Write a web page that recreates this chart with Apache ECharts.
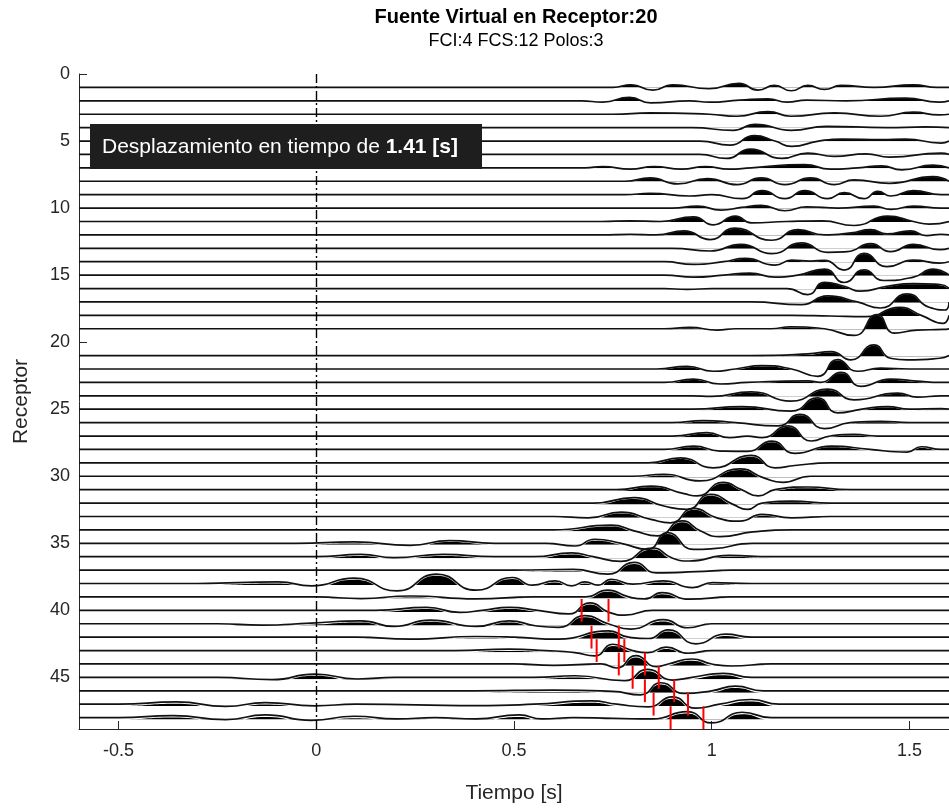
<!DOCTYPE html>
<html>
<head>
<meta charset="utf-8">
<title>Fuente Virtual en Receptor:20</title>
<script src="https://cdn.jsdelivr.net/npm/echarts@6/dist/echarts.min.js"></script>
<style>
  html, body { margin: 0; padding: 0; background: #fff; }
  #main { width: 949px; height: 809px; }
</style>
</head>
<body>
<div id="main"></div>
<script>
// limites de los ejes
var tMin = -0.6, tMax = 1.6;
var recMax = 48.85;

// receptores dibujados (el 20 es la fuente virtual, no se dibuja)
var receptores = [1,2,3,4,5,6,7,8,9,10,11,12,13,14,15,16,17,18,19,
                  21,22,23,24,25,26,27,28,29,30,31,32,33,34,35,36,37,38,39,40,41,42,43,44,45,46,47,48];

// trazas: [tiempo (s), amplitud en unidades de receptor, + hacia arriba]
var t01 = [[0.75,0],[0.796,0.2],[0.851,-0.2],[0.901,0.2],[0.993,-0.1],[1.069,0.3],[1.117,-0.2],[1.159,0.15],[1.201,-0.25],[1.243,0.15],[1.285,-0.15],[1.327,0.15],[1.41,0],[1.51,0.2],[1.57,0]];
var t02 = [[0.67,0],[0.724,-0.1],[0.792,0.25],[0.846,-0.15],[0.944,0],[0.994,-0.1],[1.07,0.05],[1.142,0.15],[1.19,-0.1],[1.24,0.05],[1.34,0],[1.49,0.2],[1.575,-0.1]];
var t03 = [[0.75,0],[0.844,0.1],[0.994,0],[1.064,-0.15],[1.142,0.2],[1.2,-0.15],[1.31,0.1],[1.427,-0.15],[1.51,0.15],[1.575,-0.05]];
var t04 = [[0.95,0],[1.054,-0.2],[1.11,0.25],[1.201,-0.2],[1.29,0.1],[1.44,0],[1.54,0.05]];
var t05 = [[0.97,0],[1.046,-0.3],[1.108,0.4],[1.16,0],[1.202,-0.4],[1.27,0],[1.33,0.15],[1.43,0.1],[1.49,0.15],[1.58,-0.15]];
var t06 = [[0.97,0],[1.037,-0.3],[1.098,0.4],[1.177,-0.3],[1.243,0.1],[1.31,-0.15],[1.39,0.05],[1.45,-0.2],[1.58,0.1]];
var t07 = [[0.68,0],[0.724,0.1],[0.794,-0.1],[0.854,0.1],[0.924,-0.1],[0.984,0.1],[1.044,-0.1],[1.1,0],[1.235,0.25],[1.3,-0.1],[1.37,0],[1.43,0.15],[1.48,-0.15],[1.56,0.2]];
var t08 = [[0.78,0],[0.844,0.25],[0.914,-0.2],[0.989,0.2],[1.064,-0.25],[1.125,0.25],[1.185,-0.25],[1.25,0.25],[1.31,-0.25],[1.36,0.1],[1.45,-0.15],[1.56,0.35]];
var t09 = [[0.78,0],[0.844,0.1],[0.944,-0.1],[1.0,0],[1.077,-0.3],[1.127,0.3],[1.185,-0.3],[1.235,0.3],[1.293,-0.3],[1.335,0.15],[1.385,-0.3],[1.42,0.25],[1.453,-0.1],[1.51,0.3],[1.58,0]];
var t10 = [[0.9,0],[0.964,0.15],[1.024,-0.15],[1.075,0.05],[1.125,0.2],[1.185,-0.2],[1.24,0.1],[1.32,0],[1.41,0.15],[1.453,-0.1],[1.51,0.15],[1.58,0]];
var t11 = [[0.72,0],[0.794,0.05],[0.87,0],[0.954,0.35],[1.004,-0.25],[1.06,0.4],[1.1,-0.1],[1.19,0],[1.28,0.05],[1.36,-0.3],[1.445,0.4],[1.51,0],[1.55,-0.2]];
var t12 = [[0.72,0],[0.794,0.05],[0.86,0],[0.93,0.3],[0.996,-0.35],[1.058,0.5],[1.152,-0.4],[1.218,0.4],[1.285,0],[1.352,0.15],[1.402,0.4],[1.443,0.07],[1.502,0.3],[1.543,-0.05],[1.58,0.05]];
var t13 = [[0.9,0],[0.996,-0.2],[1.074,0.3],[1.152,-0.4],[1.227,0.4],[1.293,-0.3],[1.343,-0.25],[1.402,0.35],[1.452,-0.25],[1.51,0.3],[1.577,-0.1]];
var t14 = [[0.88,0],[0.954,-0.2],[1.03,0],[1.085,0.25],[1.16,-0.25],[1.202,0.12],[1.25,0.05],[1.285,0.1],[1.335,-0.62],[1.385,0.62],[1.443,-0.37],[1.51,0.12],[1.577,-0.1]];
var t15 = [[0.88,0],[0.954,-0.15],[1.03,0],[1.096,0.15],[1.16,-0.15],[1.218,0],[1.285,0.45],[1.335,-0.55],[1.385,0.4],[1.435,-0.4],[1.51,-0.15],[1.56,0.45],[1.59,0.2]];
var t16 = [[0.88,0],[0.938,-0.07],[1.0,0],[1.19,0],[1.243,-0.45],[1.285,0.47],[1.335,0.17],[1.377,-0.2],[1.443,0.17],[1.51,0.37],[1.577,0.3]];
var t17 = [[1.1,0],[1.227,-0.2],[1.293,0.45],[1.368,0],[1.427,-0.45],[1.494,0.6],[1.55,-0.4],[1.59,-0.6]];
var t18 = [[1.2,0],[1.3,-0.05],[1.39,-0.1],[1.475,0.6],[1.53,0],[1.585,-0.6]];
var t19 = [[0.88,0],[0.944,0.1],[1.014,-0.1],[1.06,0],[1.15,0],[1.2,0.15],[1.285,0],[1.36,-0.5],[1.418,1.05],[1.462,-0.32],[1.52,-0.1],[1.585,-0.05]];
var t21 = [[1.1,0],[1.243,0.12],[1.302,0.3],[1.352,-0.32],[1.41,0.8],[1.452,-0.2],[1.494,-0.32],[1.577,-0.2]];
var t22 = [[0.86,0],[0.938,0.2],[1.004,-0.17],[1.06,0],[1.127,0.25],[1.202,0],[1.268,-0.55],[1.318,0.7],[1.368,-0.17],[1.427,0.07],[1.5,0],[1.58,0]];
var t23 = [[0.88,0],[0.954,0.25],[1.021,-0.12],[1.09,0],[1.243,0.12],[1.275,0],[1.327,0.75],[1.377,-0.3],[1.452,0.25],[1.518,0.1],[1.58,0]];
var t24 = [[0.95,0],[1.0,-0.05],[1.1,0.3],[1.2,-0.4],[1.293,0.5],[1.36,-0.3],[1.47,0.2],[1.52,-0.1],[1.58,0]];
var t25 = [[0.95,0],[1.077,0.2],[1.2,-0.15],[1.268,0.85],[1.318,-0.27],[1.38,0],[1.444,0.2],[1.5,0],[1.58,0.05]];
var t26 = [[0.9,0],[0.979,0.15],[1.06,0],[1.168,-0.25],[1.223,0.62],[1.285,-0.45],[1.35,0],[1.427,0.1],[1.5,0]];
var t27 = [[0.9,0],[0.988,0.25],[1.046,-0.12],[1.09,0],[1.127,-0.12],[1.193,0.75],[1.252,-0.37],[1.3,0],[1.36,0.12],[1.42,0]];
var t28 = [[0.88,0],[0.954,0.25],[1.021,-0.12],[1.09,-0.15],[1.152,0.62],[1.21,-0.3],[1.302,0.25],[1.4,0],[1.494,-0.2],[1.53,0.2],[1.58,0]];
var t29 = [[0.84,0],[0.921,0.37],[1.004,-0.37],[1.1,0.55],[1.16,-0.37],[1.21,-0.2],[1.3,0]];
var t30 = [[0.8,0],[0.879,0.15],[0.971,-0.35],[1.071,0.55],[1.13,-0.1],[1.18,-0.45],[1.25,0]];
var t31 = [[0.76,0],[0.846,0.27],[0.93,-0.3],[0.963,-0.47],[1.029,0.55],[1.075,0],[1.118,-0.47],[1.16,0],[1.243,0.2],[1.35,0]];
var t32 = [[0.7,0],[0.804,0.4],[0.879,-0.22],[0.938,-0.47],[0.996,0.65],[1.054,-0.1],[1.09,-0.47],[1.127,0],[1.202,0.15],[1.3,0]];
var t33 = [[0.6,0],[0.688,-0.1],[0.771,0.32],[0.846,-0.22],[0.896,-0.47],[0.954,0.6],[1.013,-0.1],[1.071,-0.35],[1.127,0.15],[1.202,-0.1],[1.3,0]];
var t34 = [[0.6,0],[0.746,0.35],[0.804,-0.07],[0.863,-0.45],[0.925,0.67],[0.971,-0.07],[1.021,-0.5],[1.104,-0.15],[1.2,0]];
var t35 = [[-0.05,0],[0.096,0.1],[0.237,-0.15],[0.337,0.2],[0.45,0],[0.58,0],[0.654,-0.2],[0.704,0.3],[0.771,0],[0.838,-0.45],[0.888,0.8],[0.954,-0.45],[1.004,-0.4],[1.104,0],[1.2,0]];
var t36 = [[0,0],[0.113,0.17],[0.196,-0.07],[0.321,0.17],[0.45,0],[0.55,0],[0.646,0.28],[0.7,0],[0.77,-0.35],[0.85,0.65],[0.9,-0.1],[0.943,-0.32],[1.043,0.1],[1.15,0]];
var t37 = [[0.5,0],[0.65,0.05],[0.738,-0.3],[0.804,0.57],[0.86,-0.2],[0.96,-0.12],[1.05,0]];
var t38 = [[-0.3,0],[-0.096,0.12],[-0.012,-0.17],[0.096,0.4],[0.204,-0.55],[0.304,0.7],[0.404,-0.5],[0.496,0.45],[0.546,-0.12],[0.604,0.2],[0.646,-0.17],[0.679,0.12],[0.713,-0.12],[0.746,0.32],[0.8,-0.05],[0.877,0.2],[0.952,-0.3],[1.002,0.07],[1.1,0]];
var t39 = [[0,0],[0.113,-0.12],[0.237,0.07],[0.404,-0.15],[0.55,0],[0.68,0],[0.737,0.5],[0.79,0],[0.83,-0.15],[0.874,0.32],[0.943,-0.17],[1.05,0]];
var t40 = [[0.15,0],[0.279,0.22],[0.363,-0.15],[0.42,0],[0.488,0.22],[0.56,0],[0.638,-0.27],[0.692,0.55],[0.74,-0.15],[0.78,-0.35],[0.85,0]];
var t41 = [[-0.25,0],[-0.138,-0.1],[-0.013,0.05],[0.113,0.22],[0.196,-0.2],[0.288,0.27],[0.404,-0.2],[0.488,0.22],[0.554,-0.15],[0.613,-0.27],[0.679,0.6],[0.738,0],[0.796,-0.4],[0.877,0.3],[0.94,-0.3],[1.0,0]];
var t42 = [[0.1,0],[0.237,-0.15],[0.404,0.05],[0.5,0],[0.613,-0.15],[0.738,0.47],[0.79,0],[0.84,-0.1],[0.89,0.55],[0.96,-0.5],[1.035,0.22],[1.1,0]];
var t43 = [[0.35,0],[0.488,0.1],[0.58,0],[0.654,-0.15],[0.704,-0.4],[0.75,0.47],[0.8,0],[0.838,-0.15],[0.885,0.25],[0.94,-0.2],[1.0,0]];
var t44 = [[0.5,0],[0.6,-0.1],[0.72,0],[0.76,-0.3],[0.808,0.62],[0.86,-0.2],[0.89,0],[0.95,0.37],[1.0,0],[1.05,-0.15],[1.15,0]];
var t45 = [[-0.25,0],[-0.112,-0.17],[-0.004,0.25],[0.104,-0.12],[0.2,0],[0.55,0],[0.654,0.12],[0.779,-0.25],[0.838,0.6],[0.9,-0.2],[0.95,0],[1.03,0.3],[1.1,0]];
var t46 = [[0.4,0],[0.6,0.05],[0.75,-0.05],[0.82,-0.3],[0.871,0.6],[0.93,-0.2],[1.0,0],[1.06,0.35],[1.13,0]];
var t47 = [[-0.5,0],[-0.354,0.17],[-0.229,-0.17],[-0.129,0.12],[-0.004,-0.12],[0.1,0],[0.404,-0.1],[0.55,0],[0.696,0.25],[0.76,0],[0.84,-0.2],[0.9,0.55],[0.96,-0.3],[1.02,0],[1.1,0.35],[1.17,0]];
var t48 = [[-0.5,0],[-0.362,0.15],[-0.229,-0.15],[-0.129,0.2],[-0.012,-0.2],[0.096,0.1],[0.204,-0.1],[0.3,0],[0.404,-0.1],[0.513,0.2],[0.571,-0.1],[0.65,0],[0.85,-0.1],[0.938,0.45],[1.0,-0.4],[1.077,0.4],[1.15,0]];

var trazas = [t01,t02,t03,t04,t05,t06,t07,t08,t09,t10,t11,t12,t13,t14,t15,t16,t17,t18,t19,
              t21,t22,t23,t24,t25,t26,t27,t28,t29,t30,t31,t32,t33,t34,t35,t36,t37,t38,t39,t40,t41,t42,t43,t44,t45,t46,t47,t48];

// picks (lineas rojas)
var picksReceptor = [40, 42, 43, 44, 45, 46, 47, 48];
var picksIni = [0.671, 0.696, 0.709, 0.765, 0.800, 0.831, 0.853, 0.896];
var picksFin = [0.739, 0.765, 0.779, 0.831, 0.866, 0.905, 0.940, 0.979];

var desplazamiento = 1.41;

// geometria del area de dibujo
var gLeft = 79, gTop = 74, gW = 880, gH = 657;
var fuente = '"Liberation Sans", Arial, Helvetica, sans-serif';
var gris = '#262626';

var myChart = echarts.init(document.getElementById('main'));

var grids = [{left: gLeft, top: gTop, width: gW, height: gH}];
var xAxes = [{
    gridIndex: 0, type: 'value', position: 'bottom', min: tMin, max: tMax, splitNumber: 5,
    name: 'Tiempo [s]', nameLocation: 'middle', nameGap: 54,
    nameTextStyle: {fontFamily: fuente, fontSize: 21, color: gris},
    axisLine: {onZero: false, lineStyle: {color: gris, width: 1}},
    axisTick: {inside: true, length: 8, lineStyle: {color: gris}},
    axisLabel: {
        fontFamily: fuente, fontSize: 18, color: gris, margin: 13,
        showMinLabel: false, showMaxLabel: false,
        formatter: function (v) {
            return Math.abs(v * 2 - Math.round(v * 2)) < 1e-6 ? String(v) : '';
        }
    },
    splitLine: {show: false}
}];
var yAxes = [{
    gridIndex: 0, type: 'value', position: 'left', min: 0, max: recMax, interval: 5, inverse: true,
    name: 'Receptor', nameLocation: 'middle', nameGap: 47,
    nameTextStyle: {fontFamily: fuente, fontSize: 21, color: gris},
    axisLine: {onZero: false, lineStyle: {color: gris, width: 1}},
    axisTick: {inside: true, length: 8, lineStyle: {color: gris}},
    axisLabel: {
        fontFamily: fuente, fontSize: 18, color: gris, margin: 9,
        formatter: function (v) { return v % 5 === 0 && v < recMax ? String(v) : ''; }
    },
    splitLine: {show: false}
}];

var series = [];

receptores.forEach(function (r, i) {
    var pts = [[tMin, r]];
    trazas[i].forEach(function (p) { pts.push([p[0], r - p[1]]); });
    pts.push([tMax, r]);

    // rejilla propia que termina en la linea base: recorta la parte negativa del relleno
    var g = grids.length;
    grids.push({left: gLeft, top: gTop, width: gW, height: gH * r / recMax});
    xAxes.push({gridIndex: g, type: 'value', min: tMin, max: tMax, show: false});
    yAxes.push({gridIndex: g, type: 'value', min: 0, max: r, inverse: true, show: false});

    series.push({
        type: 'line', xAxisIndex: g, yAxisIndex: g, data: pts,
        smooth: 0.55, symbol: 'none', silent: true, clip: true,
        lineStyle: {width: 0, opacity: 0},
        areaStyle: {color: '#000', opacity: 1, origin: r}
    });
    series.push({
        type: 'line', xAxisIndex: 0, yAxisIndex: 0, data: pts,
        smooth: 0.55, symbol: 'none', silent: true,
        lineStyle: {color: '#111', width: 1.7}
    });
});

// linea de tiempo cero (raya-punto)
series[1].markLine = {
    silent: true, symbol: ['none', 'none'], label: {show: false},
    lineStyle: {color: '#000', type: [9, 3, 2, 3], width: 1.4},
    data: [{xAxis: 0}]
};

// picks en rojo
var picksData = [];
picksReceptor.forEach(function (r, i) {
    picksData.push([picksIni[i], r]);
    picksData.push([picksFin[i], r]);
});
series.push({
    type: 'custom', xAxisIndex: 0, yAxisIndex: 0, data: picksData, silent: true, z: 5,
    renderItem: function (params, api) {
        var t = api.value(0), r = api.value(1);
        var p1 = api.coord([t, r - 0.85]);
        var p2 = api.coord([t, r + 0.85]);
        return {
            type: 'line',
            shape: {x1: p1[0], y1: p1[1], x2: p2[0], y2: p2[1]},
            style: {stroke: '#ff0000', lineWidth: 2}
        };
    }
});

var option = {
    animation: false,
    backgroundColor: '#fff',
    grid: grids,
    xAxis: xAxes,
    yAxis: yAxes,
    series: series,
    graphic: [
        {type: 'text', x: 516, y: 17, z: 100,
         style: {text: 'Fuente Virtual en Receptor:20', fill: '#000', align: 'center', verticalAlign: 'middle',
                 font: 'bold 20px ' + fuente}},
        {type: 'text', x: 516, y: 41, z: 100,
         style: {text: 'FCI:4 FCS:12 Polos:3', fill: '#000', align: 'center', verticalAlign: 'middle',
                 font: '18px ' + fuente}},
        {type: 'rect', x: 90, y: 124, z: 100,
         shape: {width: 392, height: 45}, style: {fill: '#1e1e1e'}},
        {type: 'text', x: 102, y: 147, z: 101,
         style: {
             text: '{n|Desplazamiento en tiempo de }{b|' + desplazamiento.toFixed(2) + ' [s]}',
             verticalAlign: 'middle',
             rich: {
                 n: {fill: '#fff', fontFamily: fuente, fontSize: 21},
                 b: {fill: '#fff', fontFamily: fuente, fontSize: 21, fontWeight: 'bold'}
             }
         }}
    ]
};

myChart.setOption(option);
</script>
</body>
</html>
